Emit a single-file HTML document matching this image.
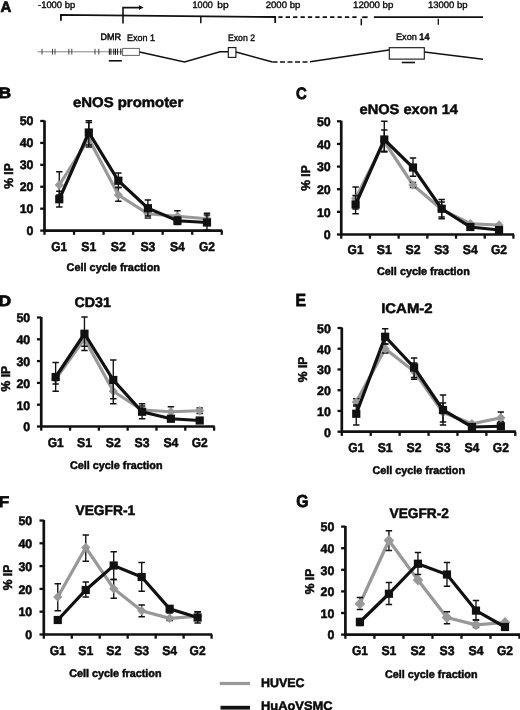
<!DOCTYPE html>
<html><head><meta charset="utf-8"><title>Figure</title>
<style>
html,body{margin:0;padding:0;background:#fff;}
body{width:520px;height:710px;overflow:hidden;font-family:"Liberation Sans", sans-serif;}
svg{display:block;position:absolute;left:0;top:0;font-family:"Liberation Sans", sans-serif;text-rendering:geometricPrecision;filter:grayscale(1);}
text{fill:#0a0a0a;stroke:#0a0a0a;stroke-width:0.5px;paint-order:stroke;}
text.r{stroke-width:0.38px;}
</style></head>
<body>
<svg width="520" height="710" viewBox="0 0 520 710">
<rect width="520" height="710" fill="#fff"/>
<text x="0.4" y="11.8" font-size="15" font-weight="bold" style="stroke-width:0.7px">A</text>
<text x="38" y="7.9" font-size="9.4" font-weight="normal" text-anchor="start" textLength="37.2" lengthAdjust="spacingAndGlyphs"  class="r">-1000 bp</text>
<text x="192.5" y="7.9" font-size="9.4" font-weight="normal" text-anchor="start" textLength="20.3" lengthAdjust="spacingAndGlyphs"  class="r">1000</text>
<text x="217.3" y="7.9" font-size="9.4" font-weight="normal" text-anchor="start" textLength="11.3" lengthAdjust="spacingAndGlyphs"  class="r">bp</text>
<text x="265.7" y="7.9" font-size="9.4" font-weight="normal" text-anchor="start" textLength="34.6" lengthAdjust="spacingAndGlyphs"  class="r">2000 bp</text>
<text x="353.0" y="7.9" font-size="9.4" font-weight="normal" text-anchor="start" textLength="40.4" lengthAdjust="spacingAndGlyphs"  class="r">12000 bp</text>
<text x="428" y="7.9" font-size="9.4" font-weight="normal" text-anchor="start" textLength="39.6" lengthAdjust="spacingAndGlyphs"  class="r">13000 bp</text>
<path d="M60.9 20.8 V14.9 L275.2 17.0 V23" fill="none" stroke="#111" stroke-width="1.8"/>
<path d="M278.3 17.1 L358 17.2" fill="none" stroke="#111" stroke-width="1.8" stroke-dasharray="4.3 3.1"/>
<path d="M362.2 17.2 H367.6" fill="none" stroke="#111" stroke-width="1.8"/>
<path d="M361.3 18.7 V25.3" fill="none" stroke="#111" stroke-width="1.5"/>
<path d="M373.9 17.2 H483" fill="none" stroke="#111" stroke-width="1.8"/>
<path d="M200.8 16 V23.2" stroke="#111" stroke-width="1.5"/>
<path d="M438.3 18.8 V24.8" stroke="#111" stroke-width="1.3"/>
<path d="M123 23.6 V7.6 H140" fill="none" stroke="#111" stroke-width="1.6"/>
<path d="M139 5.3 L143.6 7.6 L139 9.9 Z" fill="#111"/>
<path d="M37.5 51.8 H122.5" stroke="#777" stroke-width="0.9"/>
<path d="M42 48.8 V54.6" stroke="#333" stroke-width="0.9"/>
<path d="M52.5 48.8 V54.6" stroke="#333" stroke-width="0.9"/>
<path d="M55 48.8 V54.6" stroke="#333" stroke-width="0.9"/>
<path d="M68.8 48.8 V54.6" stroke="#333" stroke-width="0.9"/>
<path d="M71.8 48.8 V54.6" stroke="#333" stroke-width="0.9"/>
<path d="M95 48.8 V54.6" stroke="#333" stroke-width="0.9"/>
<path d="M98.8 48.8 V54.6" stroke="#333" stroke-width="0.9"/>
<path d="M109.3 48.6 V54.8" stroke="#111" stroke-width="1"/>
<path d="M110.9 48.6 V54.8" stroke="#111" stroke-width="1"/>
<path d="M113.8 48.6 V54.8" stroke="#111" stroke-width="1"/>
<path d="M115.5 48.6 V54.8" stroke="#111" stroke-width="1"/>
<path d="M117.6 48.6 V54.8" stroke="#111" stroke-width="1"/>
<path d="M120.8 48.6 V54.8" stroke="#111" stroke-width="1"/>
<text x="100.5" y="40" font-size="9.4" font-weight="normal" text-anchor="start" textLength="20.6" lengthAdjust="spacingAndGlyphs" style="stroke-width:0.5px" class="r">DMR</text>
<path d="M108.8 60.8 H121.8" stroke="#111" stroke-width="1.6"/>
<rect x="122.6" y="48.4" width="16.8" height="7" fill="#fff" stroke="#666" stroke-width="1"/>
<text x="127" y="41.3" font-size="9.4" font-weight="normal" text-anchor="start" textLength="28" lengthAdjust="spacingAndGlyphs"  class="r">Exon 1</text>
<path d="M139.5 52 L184.5 62 L220 51.8 H228" fill="none" stroke="#111" stroke-width="1.5"/>
<rect x="228.3" y="47.6" width="7.6" height="9.8" fill="#fff" stroke="#111" stroke-width="1.1"/>
<text x="228" y="41.3" font-size="9.4" font-weight="normal" text-anchor="start" textLength="27" lengthAdjust="spacingAndGlyphs"  class="r">Exon 2</text>
<path d="M236 52 L272.5 62" fill="none" stroke="#111" stroke-width="1.5"/>
<path d="M272.5 62 H310" fill="none" stroke="#111" stroke-width="1.5" stroke-dasharray="5 2.5"/>
<path d="M310 61.8 L389 50" fill="none" stroke="#111" stroke-width="1.5"/>
<rect x="389.3" y="47.7" width="35" height="11.4" fill="#fff" stroke="#111" stroke-width="1.1"/>
<text x="396" y="40.2" font-size="9.4" font-weight="normal" text-anchor="start" textLength="33.5" lengthAdjust="spacingAndGlyphs"  class="r">Exon <tspan font-weight="bold">14</tspan></text>
<path d="M401.8 62.5 H415" stroke="#111" stroke-width="1.6"/>
<path d="M424.5 52 L483 59.3" fill="none" stroke="#111" stroke-width="1.5"/>
<text transform="translate(-1.5 98.2) scale(1.15 1)" font-size="15.2" font-weight="bold" style="stroke-width:0.8px">B</text>
<text x="73" y="106.6" font-size="14" font-weight="bold" text-anchor="start" textLength="110.2" lengthAdjust="spacingAndGlyphs" >eNOS promoter</text>
<path d="M40.2 230.60 H44.5" stroke="#111" stroke-width="2.3"/>
<text x="33.5" y="235.0" font-size="12.4" font-weight="bold" text-anchor="end" >0</text>
<path d="M40.2 208.68 H44.5" stroke="#111" stroke-width="2.3"/>
<text x="33.5" y="213.08" font-size="12.4" font-weight="bold" text-anchor="end" >10</text>
<path d="M40.2 186.76 H44.5" stroke="#111" stroke-width="2.3"/>
<text x="33.5" y="191.16" font-size="12.4" font-weight="bold" text-anchor="end" >20</text>
<path d="M40.2 164.84 H44.5" stroke="#111" stroke-width="2.3"/>
<text x="33.5" y="169.24" font-size="12.4" font-weight="bold" text-anchor="end" >30</text>
<path d="M40.2 142.92 H44.5" stroke="#111" stroke-width="2.3"/>
<text x="33.5" y="147.32" font-size="12.4" font-weight="bold" text-anchor="end" >40</text>
<path d="M40.2 121.00 H44.5" stroke="#111" stroke-width="2.3"/>
<text x="33.5" y="125.4" font-size="12.4" font-weight="bold" text-anchor="end" >50</text>
<text transform="translate(12.8 176) rotate(-90)" font-size="12.8" font-weight="bold" text-anchor="middle" textLength="25.5" lengthAdjust="spacingAndGlyphs">% IP</text>
<polyline points="59.27,185.00 88.81,138.75 118.35,195.00 147.90,213.75 177.44,216.25 206.98,218.75" fill="none" stroke="#989898" stroke-width="3.2" stroke-linejoin="miter"/>
<path d="M59.27 171.75 V195 M56.07 171.75 h6.4 M56.07 195 h6.4" stroke="#111" stroke-width="1.35" fill="none"/>
<path d="M88.81 122.5 V147 M85.61 122.5 h6.4 M85.61 147 h6.4" stroke="#111" stroke-width="1.35" fill="none"/>
<path d="M118.35 187.5 V201.25 M115.15 187.5 h6.4 M115.15 201.25 h6.4" stroke="#111" stroke-width="1.35" fill="none"/>
<path d="M147.90 209 V218 M144.70 209 h6.4 M144.70 218 h6.4" stroke="#111" stroke-width="1.35" fill="none"/>
<path d="M177.44 210.75 V221 M174.24 210.75 h6.4 M174.24 221 h6.4" stroke="#111" stroke-width="1.35" fill="none"/>
<path d="M206.98 213.25 V224 M203.78 213.25 h6.4 M203.78 224 h6.4" stroke="#111" stroke-width="1.35" fill="none"/>
<path d="M59.27 180.20 l4.6 4.8 l-4.6 4.8 l-4.6 -4.8 Z" fill="#989898"/>
<path d="M88.81 133.95 l4.6 4.8 l-4.6 4.8 l-4.6 -4.8 Z" fill="#989898"/>
<path d="M118.35 190.20 l4.6 4.8 l-4.6 4.8 l-4.6 -4.8 Z" fill="#989898"/>
<path d="M147.90 208.95 l4.6 4.8 l-4.6 4.8 l-4.6 -4.8 Z" fill="#989898"/>
<path d="M177.44 211.45 l4.6 4.8 l-4.6 4.8 l-4.6 -4.8 Z" fill="#989898"/>
<path d="M206.98 213.95 l4.6 4.8 l-4.6 4.8 l-4.6 -4.8 Z" fill="#989898"/>
<polyline points="59.27,199.25 88.81,132.50 118.35,180.75 147.90,208.25 177.44,220.75 206.98,222.50" fill="none" stroke="#111" stroke-width="3.2" stroke-linejoin="miter"/>
<path d="M59.27 191.25 V207 M56.07 191.25 h6.4 M56.07 207 h6.4" stroke="#111" stroke-width="1.35" fill="none"/>
<path d="M88.81 120.75 V145 M85.61 120.75 h6.4 M85.61 145 h6.4" stroke="#111" stroke-width="1.35" fill="none"/>
<path d="M118.35 173 V187.5 M115.15 173 h6.4 M115.15 187.5 h6.4" stroke="#111" stroke-width="1.35" fill="none"/>
<path d="M147.90 200 V216 M144.70 200 h6.4 M144.70 216 h6.4" stroke="#111" stroke-width="1.35" fill="none"/>
<path d="M177.44 217 V224.5 M174.24 217 h6.4 M174.24 224.5 h6.4" stroke="#111" stroke-width="1.35" fill="none"/>
<path d="M206.98 215 V230 M203.78 215 h6.4 M203.78 230 h6.4" stroke="#111" stroke-width="1.35" fill="none"/>
<rect x="55.17" y="195.15" width="8.2" height="8.2" fill="#111"/>
<rect x="84.71" y="128.40" width="8.2" height="8.2" fill="#111"/>
<rect x="114.25" y="176.65" width="8.2" height="8.2" fill="#111"/>
<rect x="143.80" y="204.15" width="8.2" height="8.2" fill="#111"/>
<rect x="173.34" y="216.65" width="8.2" height="8.2" fill="#111"/>
<rect x="202.88" y="218.40" width="8.2" height="8.2" fill="#111"/>
<path d="M44.5 120.40 V230.60 H222.35" fill="none" stroke="#111" stroke-width="2.7"/>
<path d="M44.50 230.60 v4.2" stroke="#111" stroke-width="2.3"/>
<path d="M74.04 230.60 v4.2" stroke="#111" stroke-width="2.3"/>
<path d="M103.58 230.60 v4.2" stroke="#111" stroke-width="2.3"/>
<path d="M133.12 230.60 v4.2" stroke="#111" stroke-width="2.3"/>
<path d="M162.67 230.60 v4.2" stroke="#111" stroke-width="2.3"/>
<path d="M192.21 230.60 v4.2" stroke="#111" stroke-width="2.3"/>
<path d="M221.75 230.60 v4.2" stroke="#111" stroke-width="2.3"/>
<text x="59.27" y="250.8" font-size="12.8" font-weight="bold" text-anchor="middle" textLength="16.0" lengthAdjust="spacingAndGlyphs" >G1</text>
<text x="88.81" y="250.8" font-size="12.8" font-weight="bold" text-anchor="middle" textLength="15.0" lengthAdjust="spacingAndGlyphs" >S1</text>
<text x="118.35" y="250.8" font-size="12.8" font-weight="bold" text-anchor="middle" textLength="15.0" lengthAdjust="spacingAndGlyphs" >S2</text>
<text x="147.9" y="250.8" font-size="12.8" font-weight="bold" text-anchor="middle" textLength="15.0" lengthAdjust="spacingAndGlyphs" >S3</text>
<text x="177.44" y="250.8" font-size="12.8" font-weight="bold" text-anchor="middle" textLength="15.0" lengthAdjust="spacingAndGlyphs" >S4</text>
<text x="206.98" y="250.8" font-size="12.8" font-weight="bold" text-anchor="middle" textLength="16.0" lengthAdjust="spacingAndGlyphs" >G2</text>
<text x="66.5" y="271" font-size="11" font-weight="bold" text-anchor="start" textLength="93.5" lengthAdjust="spacingAndGlyphs" >Cell cycle fraction</text>
<text transform="translate(296 98.6) scale(0.9 1)" font-size="16.5" font-weight="bold" style="stroke-width:0.8px">C</text>
<text x="359.5" y="114" font-size="14" font-weight="bold" text-anchor="start" textLength="98.5" lengthAdjust="spacingAndGlyphs" >eNOS exon 14</text>
<path d="M336.95 234.50 H341.25" stroke="#111" stroke-width="2.3"/>
<text x="330.75" y="239.4" font-size="12.4" font-weight="bold" text-anchor="end" >0</text>
<path d="M336.95 211.86 H341.25" stroke="#111" stroke-width="2.3"/>
<text x="330.75" y="216.76" font-size="12.4" font-weight="bold" text-anchor="end" >10</text>
<path d="M336.95 189.22 H341.25" stroke="#111" stroke-width="2.3"/>
<text x="330.75" y="194.12" font-size="12.4" font-weight="bold" text-anchor="end" >20</text>
<path d="M336.95 166.58 H341.25" stroke="#111" stroke-width="2.3"/>
<text x="330.75" y="171.48" font-size="12.4" font-weight="bold" text-anchor="end" >30</text>
<path d="M336.95 143.94 H341.25" stroke="#111" stroke-width="2.3"/>
<text x="330.75" y="148.84" font-size="12.4" font-weight="bold" text-anchor="end" >40</text>
<path d="M336.95 121.30 H341.25" stroke="#111" stroke-width="2.3"/>
<text x="330.75" y="126.2" font-size="12.4" font-weight="bold" text-anchor="end" >50</text>
<text transform="translate(309.7 178) rotate(-90)" font-size="12.8" font-weight="bold" text-anchor="middle" textLength="25.5" lengthAdjust="spacingAndGlyphs">% IP</text>
<polyline points="355.60,198.50 384.29,141.50 412.98,185.00 441.67,209.50 470.36,223.75 499.05,225.00" fill="none" stroke="#989898" stroke-width="3.2" stroke-linejoin="miter"/>
<path d="M355.60 187 V209 M352.40 187 h6.4 M352.40 209 h6.4" stroke="#111" stroke-width="1.35" fill="none"/>
<path d="M384.29 130 V152 M381.09 130 h6.4 M381.09 152 h6.4" stroke="#111" stroke-width="1.35" fill="none"/>
<path d="M412.98 182.5 V187.5 M409.78 182.5 h6.4 M409.78 187.5 h6.4" stroke="#111" stroke-width="1.35" fill="none"/>
<path d="M441.67 202 V217 M438.47 202 h6.4 M438.47 217 h6.4" stroke="#111" stroke-width="1.35" fill="none"/>
<path d="M355.60 193.70 l4.6 4.8 l-4.6 4.8 l-4.6 -4.8 Z" fill="#989898"/>
<path d="M384.29 136.70 l4.6 4.8 l-4.6 4.8 l-4.6 -4.8 Z" fill="#989898"/>
<path d="M412.98 180.20 l4.6 4.8 l-4.6 4.8 l-4.6 -4.8 Z" fill="#989898"/>
<path d="M441.67 204.70 l4.6 4.8 l-4.6 4.8 l-4.6 -4.8 Z" fill="#989898"/>
<path d="M470.36 218.95 l4.6 4.8 l-4.6 4.8 l-4.6 -4.8 Z" fill="#989898"/>
<path d="M499.05 220.20 l4.6 4.8 l-4.6 4.8 l-4.6 -4.8 Z" fill="#989898"/>
<polyline points="355.60,204.50 384.29,139.50 412.98,167.50 441.67,208.75 470.36,227.00 499.05,230.00" fill="none" stroke="#111" stroke-width="3.2" stroke-linejoin="miter"/>
<path d="M355.60 195.5 V213.75 M352.40 195.5 h6.4 M352.40 213.75 h6.4" stroke="#111" stroke-width="1.35" fill="none"/>
<path d="M384.29 121.25 V151.25 M381.09 121.25 h6.4 M381.09 151.25 h6.4" stroke="#111" stroke-width="1.35" fill="none"/>
<path d="M412.98 158 V176.25 M409.78 158 h6.4 M409.78 176.25 h6.4" stroke="#111" stroke-width="1.35" fill="none"/>
<path d="M441.67 199.5 V218.75 M438.47 199.5 h6.4 M438.47 218.75 h6.4" stroke="#111" stroke-width="1.35" fill="none"/>
<rect x="351.50" y="200.40" width="8.2" height="8.2" fill="#111"/>
<rect x="380.19" y="135.40" width="8.2" height="8.2" fill="#111"/>
<rect x="408.88" y="163.40" width="8.2" height="8.2" fill="#111"/>
<rect x="437.57" y="204.65" width="8.2" height="8.2" fill="#111"/>
<rect x="466.26" y="222.90" width="8.2" height="8.2" fill="#111"/>
<rect x="494.95" y="225.90" width="8.2" height="8.2" fill="#111"/>
<path d="M341.25 120.70 V234.50 H514.0" fill="none" stroke="#111" stroke-width="2.7"/>
<path d="M341.25 234.50 v4.2" stroke="#111" stroke-width="2.3"/>
<path d="M369.94 234.50 v4.2" stroke="#111" stroke-width="2.3"/>
<path d="M398.63 234.50 v4.2" stroke="#111" stroke-width="2.3"/>
<path d="M427.32 234.50 v4.2" stroke="#111" stroke-width="2.3"/>
<path d="M456.02 234.50 v4.2" stroke="#111" stroke-width="2.3"/>
<path d="M484.71 234.50 v4.2" stroke="#111" stroke-width="2.3"/>
<path d="M513.40 234.50 v4.2" stroke="#111" stroke-width="2.3"/>
<text x="355.6" y="254.1" font-size="12.8" font-weight="bold" text-anchor="middle" textLength="16.0" lengthAdjust="spacingAndGlyphs" >G1</text>
<text x="384.29" y="254.1" font-size="12.8" font-weight="bold" text-anchor="middle" textLength="15.0" lengthAdjust="spacingAndGlyphs" >S1</text>
<text x="412.98" y="254.1" font-size="12.8" font-weight="bold" text-anchor="middle" textLength="15.0" lengthAdjust="spacingAndGlyphs" >S2</text>
<text x="441.67" y="254.1" font-size="12.8" font-weight="bold" text-anchor="middle" textLength="15.0" lengthAdjust="spacingAndGlyphs" >S3</text>
<text x="470.36" y="254.1" font-size="12.8" font-weight="bold" text-anchor="middle" textLength="15.0" lengthAdjust="spacingAndGlyphs" >S4</text>
<text x="499.05" y="254.1" font-size="12.8" font-weight="bold" text-anchor="middle" textLength="16.0" lengthAdjust="spacingAndGlyphs" >G2</text>
<text x="377" y="274.5" font-size="11" font-weight="bold" text-anchor="start" textLength="92.8" lengthAdjust="spacingAndGlyphs" >Cell cycle fraction</text>
<text transform="translate(-1.5 305.6) scale(1.15 1)" font-size="15.2" font-weight="bold" style="stroke-width:0.8px">D</text>
<text x="74.5" y="307.4" font-size="14" font-weight="bold" text-anchor="start" textLength="36.4" lengthAdjust="spacingAndGlyphs" >CD31</text>
<path d="M36.95 426.50 H41.25" stroke="#111" stroke-width="2.3"/>
<text x="30.25" y="431.4" font-size="12.4" font-weight="bold" text-anchor="end" >0</text>
<path d="M36.95 404.70 H41.25" stroke="#111" stroke-width="2.3"/>
<text x="30.25" y="409.6" font-size="12.4" font-weight="bold" text-anchor="end" >10</text>
<path d="M36.95 382.90 H41.25" stroke="#111" stroke-width="2.3"/>
<text x="30.25" y="387.8" font-size="12.4" font-weight="bold" text-anchor="end" >20</text>
<path d="M36.95 361.10 H41.25" stroke="#111" stroke-width="2.3"/>
<text x="30.25" y="366.0" font-size="12.4" font-weight="bold" text-anchor="end" >30</text>
<path d="M36.95 339.30 H41.25" stroke="#111" stroke-width="2.3"/>
<text x="30.25" y="344.2" font-size="12.4" font-weight="bold" text-anchor="end" >40</text>
<path d="M36.95 317.50 H41.25" stroke="#111" stroke-width="2.3"/>
<text x="30.25" y="322.4" font-size="12.4" font-weight="bold" text-anchor="end" >50</text>
<text transform="translate(9.9 378.7) rotate(-90)" font-size="12.8" font-weight="bold" text-anchor="middle" textLength="25.5" lengthAdjust="spacingAndGlyphs">% IP</text>
<polyline points="55.65,379.00 84.46,338.75 113.27,391.25 142.08,410.00 170.89,411.75 199.70,410.75" fill="none" stroke="#989898" stroke-width="3.2" stroke-linejoin="miter"/>
<path d="M55.65 374 V384 M52.45 374 h6.4 M52.45 384 h6.4" stroke="#111" stroke-width="1.35" fill="none"/>
<path d="M84.46 331 V346.25 M81.26 331 h6.4 M81.26 346.25 h6.4" stroke="#111" stroke-width="1.35" fill="none"/>
<path d="M113.27 379 V403.75 M110.07 379 h6.4 M110.07 403.75 h6.4" stroke="#111" stroke-width="1.35" fill="none"/>
<path d="M142.08 406 V414 M138.88 406 h6.4 M138.88 414 h6.4" stroke="#111" stroke-width="1.35" fill="none"/>
<path d="M170.89 406.75 V416.5 M167.69 406.75 h6.4 M167.69 416.5 h6.4" stroke="#111" stroke-width="1.35" fill="none"/>
<path d="M199.70 408 V413.5 M196.50 408 h6.4 M196.50 413.5 h6.4" stroke="#111" stroke-width="1.35" fill="none"/>
<path d="M55.65 374.20 l4.6 4.8 l-4.6 4.8 l-4.6 -4.8 Z" fill="#989898"/>
<path d="M84.46 333.95 l4.6 4.8 l-4.6 4.8 l-4.6 -4.8 Z" fill="#989898"/>
<path d="M113.27 386.45 l4.6 4.8 l-4.6 4.8 l-4.6 -4.8 Z" fill="#989898"/>
<path d="M142.08 405.20 l4.6 4.8 l-4.6 4.8 l-4.6 -4.8 Z" fill="#989898"/>
<path d="M170.89 406.95 l4.6 4.8 l-4.6 4.8 l-4.6 -4.8 Z" fill="#989898"/>
<path d="M199.70 405.95 l4.6 4.8 l-4.6 4.8 l-4.6 -4.8 Z" fill="#989898"/>
<polyline points="55.65,377.00 84.46,333.75 113.27,380.00 142.08,411.75 170.89,418.75 199.70,420.50" fill="none" stroke="#111" stroke-width="3.2" stroke-linejoin="miter"/>
<path d="M55.65 362.5 V391.25 M52.45 362.5 h6.4 M52.45 391.25 h6.4" stroke="#111" stroke-width="1.35" fill="none"/>
<path d="M84.46 317 V350.5 M81.26 317 h6.4 M81.26 350.5 h6.4" stroke="#111" stroke-width="1.35" fill="none"/>
<path d="M113.27 360 V398.75 M110.07 360 h6.4 M110.07 398.75 h6.4" stroke="#111" stroke-width="1.35" fill="none"/>
<path d="M142.08 403.75 V418.75 M138.88 403.75 h6.4 M138.88 418.75 h6.4" stroke="#111" stroke-width="1.35" fill="none"/>
<rect x="51.55" y="372.90" width="8.2" height="8.2" fill="#111"/>
<rect x="80.36" y="329.65" width="8.2" height="8.2" fill="#111"/>
<rect x="109.17" y="375.90" width="8.2" height="8.2" fill="#111"/>
<rect x="137.98" y="407.65" width="8.2" height="8.2" fill="#111"/>
<rect x="166.79" y="414.65" width="8.2" height="8.2" fill="#111"/>
<rect x="195.60" y="416.40" width="8.2" height="8.2" fill="#111"/>
<path d="M41.25 316.90 V426.50 H214.7" fill="none" stroke="#111" stroke-width="2.7"/>
<path d="M41.25 426.50 v4.2" stroke="#111" stroke-width="2.3"/>
<path d="M70.06 426.50 v4.2" stroke="#111" stroke-width="2.3"/>
<path d="M98.87 426.50 v4.2" stroke="#111" stroke-width="2.3"/>
<path d="M127.67 426.50 v4.2" stroke="#111" stroke-width="2.3"/>
<path d="M156.48 426.50 v4.2" stroke="#111" stroke-width="2.3"/>
<path d="M185.29 426.50 v4.2" stroke="#111" stroke-width="2.3"/>
<path d="M214.10 426.50 v4.2" stroke="#111" stroke-width="2.3"/>
<text x="55.65" y="447.3" font-size="12.8" font-weight="bold" text-anchor="middle" textLength="16.0" lengthAdjust="spacingAndGlyphs" >G1</text>
<text x="84.46" y="447.3" font-size="12.8" font-weight="bold" text-anchor="middle" textLength="15.0" lengthAdjust="spacingAndGlyphs" >S1</text>
<text x="113.27" y="447.3" font-size="12.8" font-weight="bold" text-anchor="middle" textLength="15.0" lengthAdjust="spacingAndGlyphs" >S2</text>
<text x="142.08" y="447.3" font-size="12.8" font-weight="bold" text-anchor="middle" textLength="15.0" lengthAdjust="spacingAndGlyphs" >S3</text>
<text x="170.89" y="447.3" font-size="12.8" font-weight="bold" text-anchor="middle" textLength="15.0" lengthAdjust="spacingAndGlyphs" >S4</text>
<text x="199.7" y="447.3" font-size="12.8" font-weight="bold" text-anchor="middle" textLength="16.0" lengthAdjust="spacingAndGlyphs" >G2</text>
<text x="70" y="469" font-size="11" font-weight="bold" text-anchor="start" textLength="92.5" lengthAdjust="spacingAndGlyphs" >Cell cycle fraction</text>
<text transform="translate(295.5 305.5) scale(0.9 1)" font-size="17.5" font-weight="bold" style="stroke-width:0.8px">E</text>
<text x="381.2" y="313.2" font-size="14" font-weight="bold" text-anchor="start" textLength="51.4" lengthAdjust="spacingAndGlyphs" >ICAM-2</text>
<path d="M337.5 431.70 H341.8" stroke="#111" stroke-width="2.3"/>
<text x="330.8" y="436.7" font-size="12.4" font-weight="bold" text-anchor="end" >0</text>
<path d="M337.5 410.96 H341.8" stroke="#111" stroke-width="2.3"/>
<text x="330.8" y="415.96" font-size="12.4" font-weight="bold" text-anchor="end" >10</text>
<path d="M337.5 390.22 H341.8" stroke="#111" stroke-width="2.3"/>
<text x="330.8" y="395.22" font-size="12.4" font-weight="bold" text-anchor="end" >20</text>
<path d="M337.5 369.48 H341.8" stroke="#111" stroke-width="2.3"/>
<text x="330.8" y="374.48" font-size="12.4" font-weight="bold" text-anchor="end" >30</text>
<path d="M337.5 348.74 H341.8" stroke="#111" stroke-width="2.3"/>
<text x="330.8" y="353.74" font-size="12.4" font-weight="bold" text-anchor="end" >40</text>
<path d="M337.5 328.00 H341.8" stroke="#111" stroke-width="2.3"/>
<text x="330.8" y="333.0" font-size="12.4" font-weight="bold" text-anchor="end" >50</text>
<text transform="translate(307 369.4) rotate(-90)" font-size="12.8" font-weight="bold" text-anchor="middle" textLength="25.5" lengthAdjust="spacingAndGlyphs">% IP</text>
<polyline points="356.26,402.00 385.18,348.75 414.09,371.25 443.01,412.50 471.92,423.75 500.84,417.70" fill="none" stroke="#989898" stroke-width="3.2" stroke-linejoin="miter"/>
<path d="M356.26 398.75 V406 M353.06 398.75 h6.4 M353.06 406 h6.4" stroke="#111" stroke-width="1.35" fill="none"/>
<path d="M385.18 344 V353 M381.98 344 h6.4 M381.98 353 h6.4" stroke="#111" stroke-width="1.35" fill="none"/>
<path d="M414.09 363 V379.25 M410.89 363 h6.4 M410.89 379.25 h6.4" stroke="#111" stroke-width="1.35" fill="none"/>
<path d="M443.01 403 V422 M439.81 403 h6.4 M439.81 422 h6.4" stroke="#111" stroke-width="1.35" fill="none"/>
<path d="M500.84 412 V421.5 M497.64 412 h6.4 M497.64 421.5 h6.4" stroke="#111" stroke-width="1.35" fill="none"/>
<path d="M356.26 397.20 l4.6 4.8 l-4.6 4.8 l-4.6 -4.8 Z" fill="#989898"/>
<path d="M385.18 343.95 l4.6 4.8 l-4.6 4.8 l-4.6 -4.8 Z" fill="#989898"/>
<path d="M414.09 366.45 l4.6 4.8 l-4.6 4.8 l-4.6 -4.8 Z" fill="#989898"/>
<path d="M443.01 407.70 l4.6 4.8 l-4.6 4.8 l-4.6 -4.8 Z" fill="#989898"/>
<path d="M471.92 418.95 l4.6 4.8 l-4.6 4.8 l-4.6 -4.8 Z" fill="#989898"/>
<path d="M500.84 412.90 l4.6 4.8 l-4.6 4.8 l-4.6 -4.8 Z" fill="#989898"/>
<polyline points="356.26,413.75 385.18,336.75 414.09,367.50 443.01,410.00 471.92,427.00 500.84,426.25" fill="none" stroke="#111" stroke-width="3.2" stroke-linejoin="miter"/>
<path d="M356.26 405 V425 M353.06 405 h6.4 M353.06 425 h6.4" stroke="#111" stroke-width="1.35" fill="none"/>
<path d="M385.18 328.75 V344 M381.98 328.75 h6.4 M381.98 344 h6.4" stroke="#111" stroke-width="1.35" fill="none"/>
<path d="M414.09 358 V377.5 M410.89 358 h6.4 M410.89 377.5 h6.4" stroke="#111" stroke-width="1.35" fill="none"/>
<path d="M443.01 395 V425 M439.81 395 h6.4 M439.81 425 h6.4" stroke="#111" stroke-width="1.35" fill="none"/>
<rect x="352.16" y="409.65" width="8.2" height="8.2" fill="#111"/>
<rect x="381.07" y="332.65" width="8.2" height="8.2" fill="#111"/>
<rect x="409.99" y="363.40" width="8.2" height="8.2" fill="#111"/>
<rect x="438.91" y="405.90" width="8.2" height="8.2" fill="#111"/>
<rect x="467.82" y="422.90" width="8.2" height="8.2" fill="#111"/>
<rect x="496.74" y="422.15" width="8.2" height="8.2" fill="#111"/>
<path d="M341.8 327.40 V431.70 H515.9" fill="none" stroke="#111" stroke-width="2.7"/>
<path d="M341.80 431.70 v4.2" stroke="#111" stroke-width="2.3"/>
<path d="M370.72 431.70 v4.2" stroke="#111" stroke-width="2.3"/>
<path d="M399.63 431.70 v4.2" stroke="#111" stroke-width="2.3"/>
<path d="M428.55 431.70 v4.2" stroke="#111" stroke-width="2.3"/>
<path d="M457.47 431.70 v4.2" stroke="#111" stroke-width="2.3"/>
<path d="M486.38 431.70 v4.2" stroke="#111" stroke-width="2.3"/>
<path d="M515.30 431.70 v4.2" stroke="#111" stroke-width="2.3"/>
<text x="356.26" y="451.6" font-size="12.8" font-weight="bold" text-anchor="middle" textLength="16.0" lengthAdjust="spacingAndGlyphs" >G1</text>
<text x="385.18" y="451.6" font-size="12.8" font-weight="bold" text-anchor="middle" textLength="15.0" lengthAdjust="spacingAndGlyphs" >S1</text>
<text x="414.09" y="451.6" font-size="12.8" font-weight="bold" text-anchor="middle" textLength="15.0" lengthAdjust="spacingAndGlyphs" >S2</text>
<text x="443.01" y="451.6" font-size="12.8" font-weight="bold" text-anchor="middle" textLength="15.0" lengthAdjust="spacingAndGlyphs" >S3</text>
<text x="471.92" y="451.6" font-size="12.8" font-weight="bold" text-anchor="middle" textLength="15.0" lengthAdjust="spacingAndGlyphs" >S4</text>
<text x="500.84" y="451.6" font-size="12.8" font-weight="bold" text-anchor="middle" textLength="16.0" lengthAdjust="spacingAndGlyphs" >G2</text>
<text x="372.5" y="474.4" font-size="11" font-weight="bold" text-anchor="start" textLength="92.5" lengthAdjust="spacingAndGlyphs" >Cell cycle fraction</text>
<text transform="translate(-1.5 506.9) scale(1.12 1)" font-size="15.5" font-weight="bold" style="stroke-width:0.8px">F</text>
<text x="75.5" y="515" font-size="14" font-weight="bold" text-anchor="start" textLength="59.7" lengthAdjust="spacingAndGlyphs" >VEGFR-1</text>
<path d="M39.5 634.50 H43.8" stroke="#111" stroke-width="2.3"/>
<text x="32.199999999999996" y="639.2" font-size="12.4" font-weight="bold" text-anchor="end" >0</text>
<path d="M39.5 611.70 H43.8" stroke="#111" stroke-width="2.3"/>
<text x="32.199999999999996" y="616.4" font-size="12.4" font-weight="bold" text-anchor="end" >10</text>
<path d="M39.5 588.90 H43.8" stroke="#111" stroke-width="2.3"/>
<text x="32.199999999999996" y="593.6" font-size="12.4" font-weight="bold" text-anchor="end" >20</text>
<path d="M39.5 566.10 H43.8" stroke="#111" stroke-width="2.3"/>
<text x="32.199999999999996" y="570.8" font-size="12.4" font-weight="bold" text-anchor="end" >30</text>
<path d="M39.5 543.30 H43.8" stroke="#111" stroke-width="2.3"/>
<text x="32.199999999999996" y="548.0" font-size="12.4" font-weight="bold" text-anchor="end" >40</text>
<path d="M39.5 520.50 H43.8" stroke="#111" stroke-width="2.3"/>
<text x="32.199999999999996" y="525.2" font-size="12.4" font-weight="bold" text-anchor="end" >50</text>
<text transform="translate(11.7 577.5) rotate(-90)" font-size="12.8" font-weight="bold" text-anchor="middle" textLength="25.5" lengthAdjust="spacingAndGlyphs">% IP</text>
<polyline points="57.78,597.00 85.75,547.50 113.72,588.75 141.68,610.75 169.65,618.30 197.62,616.25" fill="none" stroke="#989898" stroke-width="3.2" stroke-linejoin="miter"/>
<path d="M57.78 583.75 V610.75 M54.58 583.75 h6.4 M54.58 610.75 h6.4" stroke="#111" stroke-width="1.35" fill="none"/>
<path d="M85.75 535 V561.25 M82.55 535 h6.4 M82.55 561.25 h6.4" stroke="#111" stroke-width="1.35" fill="none"/>
<path d="M113.72 579.5 V598.25 M110.52 579.5 h6.4 M110.52 598.25 h6.4" stroke="#111" stroke-width="1.35" fill="none"/>
<path d="M141.68 605 V616.75 M138.48 605 h6.4 M138.48 616.75 h6.4" stroke="#111" stroke-width="1.35" fill="none"/>
<path d="M169.65 613 V620.5 M166.45 613 h6.4 M166.45 620.5 h6.4" stroke="#111" stroke-width="1.35" fill="none"/>
<path d="M197.62 612 V620 M194.42 612 h6.4 M194.42 620 h6.4" stroke="#111" stroke-width="1.35" fill="none"/>
<path d="M57.78 592.20 l4.6 4.8 l-4.6 4.8 l-4.6 -4.8 Z" fill="#989898"/>
<path d="M85.75 542.70 l4.6 4.8 l-4.6 4.8 l-4.6 -4.8 Z" fill="#989898"/>
<path d="M113.72 583.95 l4.6 4.8 l-4.6 4.8 l-4.6 -4.8 Z" fill="#989898"/>
<path d="M141.68 605.95 l4.6 4.8 l-4.6 4.8 l-4.6 -4.8 Z" fill="#989898"/>
<path d="M169.65 613.50 l4.6 4.8 l-4.6 4.8 l-4.6 -4.8 Z" fill="#989898"/>
<path d="M197.62 611.45 l4.6 4.8 l-4.6 4.8 l-4.6 -4.8 Z" fill="#989898"/>
<polyline points="57.78,620.00 85.75,590.00 113.72,565.50 141.68,577.00 169.65,608.75 197.62,617.50" fill="none" stroke="#111" stroke-width="3.2" stroke-linejoin="miter"/>
<path d="M85.75 582 V597 M82.55 582 h6.4 M82.55 597 h6.4" stroke="#111" stroke-width="1.35" fill="none"/>
<path d="M113.72 551.75 V579.5 M110.52 551.75 h6.4 M110.52 579.5 h6.4" stroke="#111" stroke-width="1.35" fill="none"/>
<path d="M141.68 562.5 V591.25 M138.48 562.5 h6.4 M138.48 591.25 h6.4" stroke="#111" stroke-width="1.35" fill="none"/>
<path d="M197.62 611.75 V623 M194.42 611.75 h6.4 M194.42 623 h6.4" stroke="#111" stroke-width="1.35" fill="none"/>
<rect x="53.68" y="615.90" width="8.2" height="8.2" fill="#111"/>
<rect x="81.65" y="585.90" width="8.2" height="8.2" fill="#111"/>
<rect x="109.62" y="561.40" width="8.2" height="8.2" fill="#111"/>
<rect x="137.58" y="572.90" width="8.2" height="8.2" fill="#111"/>
<rect x="165.55" y="604.65" width="8.2" height="8.2" fill="#111"/>
<rect x="193.52" y="613.40" width="8.2" height="8.2" fill="#111"/>
<path d="M43.8 519.90 V634.50 H212.2" fill="none" stroke="#111" stroke-width="2.7"/>
<path d="M43.80 634.50 v4.2" stroke="#111" stroke-width="2.3"/>
<path d="M71.77 634.50 v4.2" stroke="#111" stroke-width="2.3"/>
<path d="M99.73 634.50 v4.2" stroke="#111" stroke-width="2.3"/>
<path d="M127.70 634.50 v4.2" stroke="#111" stroke-width="2.3"/>
<path d="M155.67 634.50 v4.2" stroke="#111" stroke-width="2.3"/>
<path d="M183.63 634.50 v4.2" stroke="#111" stroke-width="2.3"/>
<path d="M211.60 634.50 v4.2" stroke="#111" stroke-width="2.3"/>
<text x="57.78" y="655" font-size="12.8" font-weight="bold" text-anchor="middle" textLength="16.0" lengthAdjust="spacingAndGlyphs" >G1</text>
<text x="85.75" y="655" font-size="12.8" font-weight="bold" text-anchor="middle" textLength="15.0" lengthAdjust="spacingAndGlyphs" >S1</text>
<text x="113.72" y="655" font-size="12.8" font-weight="bold" text-anchor="middle" textLength="15.0" lengthAdjust="spacingAndGlyphs" >S2</text>
<text x="141.68" y="655" font-size="12.8" font-weight="bold" text-anchor="middle" textLength="15.0" lengthAdjust="spacingAndGlyphs" >S3</text>
<text x="169.65" y="655" font-size="12.8" font-weight="bold" text-anchor="middle" textLength="15.0" lengthAdjust="spacingAndGlyphs" >S4</text>
<text x="197.62" y="655" font-size="12.8" font-weight="bold" text-anchor="middle" textLength="16.0" lengthAdjust="spacingAndGlyphs" >G2</text>
<text x="69.2" y="676.5" font-size="11" font-weight="bold" text-anchor="start" textLength="92.3" lengthAdjust="spacingAndGlyphs" >Cell cycle fraction</text>
<text transform="translate(296.2 506.9) scale(0.9 1)" font-size="17.5" font-weight="bold" style="stroke-width:0.8px">G</text>
<text x="389.5" y="517.5" font-size="14" font-weight="bold" text-anchor="start" textLength="59.5" lengthAdjust="spacingAndGlyphs" >VEGFR-2</text>
<path d="M341.09999999999997 634.60 H345.4" stroke="#111" stroke-width="2.3"/>
<text x="334.4" y="639.4" font-size="12.4" font-weight="bold" text-anchor="end" >0</text>
<path d="M341.09999999999997 613.00 H345.4" stroke="#111" stroke-width="2.3"/>
<text x="334.4" y="617.8" font-size="12.4" font-weight="bold" text-anchor="end" >10</text>
<path d="M341.09999999999997 591.40 H345.4" stroke="#111" stroke-width="2.3"/>
<text x="334.4" y="596.2" font-size="12.4" font-weight="bold" text-anchor="end" >20</text>
<path d="M341.09999999999997 569.80 H345.4" stroke="#111" stroke-width="2.3"/>
<text x="334.4" y="574.6" font-size="12.4" font-weight="bold" text-anchor="end" >30</text>
<path d="M341.09999999999997 548.20 H345.4" stroke="#111" stroke-width="2.3"/>
<text x="334.4" y="553.0" font-size="12.4" font-weight="bold" text-anchor="end" >40</text>
<path d="M341.09999999999997 526.60 H345.4" stroke="#111" stroke-width="2.3"/>
<text x="334.4" y="531.4" font-size="12.4" font-weight="bold" text-anchor="end" >50</text>
<text transform="translate(313.6 581.5) rotate(-90)" font-size="12.8" font-weight="bold" text-anchor="middle" textLength="25.5" lengthAdjust="spacingAndGlyphs">% IP</text>
<polyline points="359.91,603.75 388.92,540.50 417.94,580.00 446.96,617.50 475.98,624.80 504.99,622.50" fill="none" stroke="#989898" stroke-width="3.2" stroke-linejoin="miter"/>
<path d="M359.91 597.5 V609.5 M356.71 597.5 h6.4 M356.71 609.5 h6.4" stroke="#111" stroke-width="1.35" fill="none"/>
<path d="M388.92 530.75 V550.5 M385.72 530.75 h6.4 M385.72 550.5 h6.4" stroke="#111" stroke-width="1.35" fill="none"/>
<path d="M446.96 611.75 V623.75 M443.76 611.75 h6.4 M443.76 623.75 h6.4" stroke="#111" stroke-width="1.35" fill="none"/>
<path d="M475.98 620 V627.5 M472.78 620 h6.4 M472.78 627.5 h6.4" stroke="#111" stroke-width="1.35" fill="none"/>
<path d="M359.91 598.25 l5.3 5.5 l-5.3 5.5 l-5.3 -5.5 Z" fill="#989898"/>
<path d="M388.92 535.00 l5.3 5.5 l-5.3 5.5 l-5.3 -5.5 Z" fill="#989898"/>
<path d="M417.94 574.50 l5.3 5.5 l-5.3 5.5 l-5.3 -5.5 Z" fill="#989898"/>
<path d="M446.96 612.00 l5.3 5.5 l-5.3 5.5 l-5.3 -5.5 Z" fill="#989898"/>
<path d="M475.98 619.30 l5.3 5.5 l-5.3 5.5 l-5.3 -5.5 Z" fill="#989898"/>
<path d="M504.99 617.00 l5.3 5.5 l-5.3 5.5 l-5.3 -5.5 Z" fill="#989898"/>
<polyline points="359.91,622.00 388.92,593.75 417.94,563.75 446.96,574.50 475.98,610.60 504.99,627.00" fill="none" stroke="#111" stroke-width="3.2" stroke-linejoin="miter"/>
<path d="M359.91 618.5 V625.5 M356.71 618.5 h6.4 M356.71 625.5 h6.4" stroke="#111" stroke-width="1.35" fill="none"/>
<path d="M388.92 582.5 V604.5 M385.72 582.5 h6.4 M385.72 604.5 h6.4" stroke="#111" stroke-width="1.35" fill="none"/>
<path d="M417.94 552.5 V574.5 M414.74 552.5 h6.4 M414.74 574.5 h6.4" stroke="#111" stroke-width="1.35" fill="none"/>
<path d="M446.96 562.5 V586.25 M443.76 562.5 h6.4 M443.76 586.25 h6.4" stroke="#111" stroke-width="1.35" fill="none"/>
<path d="M475.98 600.5 V620 M472.78 600.5 h6.4 M472.78 620 h6.4" stroke="#111" stroke-width="1.35" fill="none"/>
<rect x="355.81" y="617.90" width="8.2" height="8.2" fill="#111"/>
<rect x="384.82" y="589.65" width="8.2" height="8.2" fill="#111"/>
<rect x="413.84" y="559.65" width="8.2" height="8.2" fill="#111"/>
<rect x="442.86" y="570.40" width="8.2" height="8.2" fill="#111"/>
<rect x="471.88" y="606.50" width="8.2" height="8.2" fill="#111"/>
<rect x="500.89" y="622.90" width="8.2" height="8.2" fill="#111"/>
<path d="M345.4 526.00 V634.60 H520.1" fill="none" stroke="#111" stroke-width="2.7"/>
<path d="M345.40 634.60 v4.2" stroke="#111" stroke-width="2.3"/>
<path d="M374.42 634.60 v4.2" stroke="#111" stroke-width="2.3"/>
<path d="M403.43 634.60 v4.2" stroke="#111" stroke-width="2.3"/>
<path d="M432.45 634.60 v4.2" stroke="#111" stroke-width="2.3"/>
<path d="M461.47 634.60 v4.2" stroke="#111" stroke-width="2.3"/>
<path d="M490.48 634.60 v4.2" stroke="#111" stroke-width="2.3"/>
<path d="M519.50 634.60 v4.2" stroke="#111" stroke-width="2.3"/>
<text x="359.91" y="655.1" font-size="12.8" font-weight="bold" text-anchor="middle" textLength="16.0" lengthAdjust="spacingAndGlyphs" >G1</text>
<text x="388.92" y="655.1" font-size="12.8" font-weight="bold" text-anchor="middle" textLength="15.0" lengthAdjust="spacingAndGlyphs" >S1</text>
<text x="417.94" y="655.1" font-size="12.8" font-weight="bold" text-anchor="middle" textLength="15.0" lengthAdjust="spacingAndGlyphs" >S2</text>
<text x="446.96" y="655.1" font-size="12.8" font-weight="bold" text-anchor="middle" textLength="15.0" lengthAdjust="spacingAndGlyphs" >S3</text>
<text x="475.98" y="655.1" font-size="12.8" font-weight="bold" text-anchor="middle" textLength="15.0" lengthAdjust="spacingAndGlyphs" >S4</text>
<text x="504.99" y="655.1" font-size="12.8" font-weight="bold" text-anchor="middle" textLength="16.0" lengthAdjust="spacingAndGlyphs" >G2</text>
<text x="385" y="678.4" font-size="11" font-weight="bold" text-anchor="start" textLength="92.5" lengthAdjust="spacingAndGlyphs" >Cell cycle fraction</text>
<path d="M219.8 683.5 H250" stroke="#989898" stroke-width="3.2"/>
<path d="M220.5 707.7 H250" stroke="#111" stroke-width="3.8"/>
<text x="261" y="686.9" font-size="12.5" font-weight="bold" text-anchor="start" textLength="43.5" lengthAdjust="spacingAndGlyphs" >HUVEC</text>
<text x="261" y="710.3" font-size="12.5" font-weight="bold" text-anchor="start" textLength="71.5" lengthAdjust="spacingAndGlyphs" >HuAoVSMC</text>
</svg>
</body></html>
